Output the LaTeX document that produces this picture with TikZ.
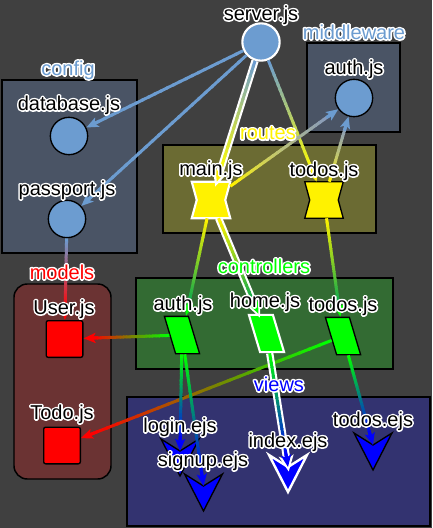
\documentclass[tikz,border=0pt]{standalone}
\usepackage{fontspec}
\setmainfont{Liberation Sans}
\usetikzlibrary{calc,arrows.meta}
\definecolor{bg}{RGB}{64,64,64}
\definecolor{nblue}{RGB}{108,156,208}
\definecolor{slate}{RGB}{74,84,101}
\definecolor{olivebox}{RGB}{107,107,51}
\definecolor{greenbox}{RGB}{51,107,51}
\definecolor{redbox}{RGB}{107,51,51}
\definecolor{bluebox}{RGB}{51,51,112}
\newcommand\halotext[1]{\leavevmode\rlap{\special{pdf:literal 1 Tr 2.4 w 1 1 1 RG 1 j 1 J}#1\special{pdf:literal 0 Tr}}#1}
\tikzset{
  grp/.style={draw=black, line width=1.1pt},
  circ/.style={circle, draw=black, fill=nblue, line width=1pt, minimum size=28pt, inner sep=0pt},
  hl/.style={draw=white, line width=1.6pt},
  rbox/.style={rectangle, minimum width=28.5pt, minimum height=27pt, inner sep=0pt},
  rshape/.style={fill=yellow, draw=black, line width=1pt},
  ctrl/.style={rectangle, draw=black, fill=green, line width=1pt, minimum width=18pt, minimum height=28pt, inner sep=0pt},
  mbox/.style={rectangle, rounded corners=1.5pt, draw=black, fill=red, line width=1pt, minimum size=27.5pt, inner sep=0pt},
  chev/.style={fill=blue, draw=black, line width=1pt, line join=miter},
  lab/.style={font=\fontsize{15}{18}\selectfont, inner sep=0pt, text=black},
  glab/.style={font=\fontsize{15}{18}\selectfont, inner sep=0pt},
  etip/.style={-{Stealth[length=9pt,width=7.5pt,inset=2pt]}},
}
\newcommand\gedge[4]{%
  \path (#1) -- (#2) coordinate[pos=0] (gs) coordinate[pos=1] (ge);
  \coordinate (gm) at ($(ge)!6pt!(gs)$);
  \foreach \i in {0,...,23}{%
    \pgfmathsetmacro\pa{\i/24}%
    \pgfmathsetmacro\pb{(\i+1.3)/24}%
    \pgfmathtruncatemacro\pc{100-100*\i/23}%
    \draw[line width=2.25pt, line cap=butt, draw=#3!\pc!#4] ($(gs)!\pa!(gm)$) -- ($(gs)!\pb!(gm)$);
  }
  \draw[line width=2.25pt, draw=#4, fill=#4, etip] ($(ge)!11pt!(gs)$) -- (ge);
}
\newcommand\gcase[2]{%
  \path (#1) -- (#2) coordinate[pos=0] (gs) coordinate[pos=1] (ge);
  \draw[white, line width=5.5pt, -{Stealth[length=12pt,width=11pt,inset=3pt]}] (gs) -- ($(gs)!1.04!(ge)$);
}
\newcommand\chevron[4]{%
  \coordinate (#1) at ({#2},{#3+12});
  \draw[chev,#4] ({#2-19},{#3}) -- (#1) -- ({#2+19},{#3}) -- ({#2},{#3+37}) -- cycle;
}
\begin{document}
\begin{tikzpicture}[x=0.75pt,y=-0.75pt]
\fill[bg] (0,0) rectangle (432,528);
% groups
\draw[grp, fill=slate] (2,80) rectangle (137,253);
\draw[grp, fill=slate] (307,43) rectangle (400,132);
\draw[grp, fill=olivebox] (163,145) rectangle (376,233);
\draw[grp, fill=greenbox] (136,278) rectangle (393,369);
\draw[grp, fill=redbox, rounded corners=10pt] (14,284) rectangle (111,479);
\draw[grp, fill=bluebox] (127,397) rectangle (430,526);
% nodes
\node[circ, hl] (server) at (261,42) {};
\node[circ] (db) at (69,136) {};
\node[circ] (pass) at (67,219) {};
\node[circ] (mauth) at (354,98) {};
\node[rbox] (main) at (211,200) {};
\draw[rshape, hl] (main.north west) -- (main.north east) -- ($(main.east)+(-5,0)$) -- (main.south east) -- (main.south west) -- ($(main.west)+(5,0)$) -- cycle;
\node[rbox] (rtodos) at (324,200) {};
\draw[rshape] (rtodos.north west) -- (rtodos.north east) -- ($(rtodos.east)+(-5,0)$) -- (rtodos.south east) -- (rtodos.south west) -- ($(rtodos.west)+(5,0)$) -- cycle;
\begin{scope}[shift={(182,335)}, xslant=-0.3]
  \node[ctrl, transform shape] (cauth) at (0,0) {};
\end{scope}
\begin{scope}[shift={(266.5,333.5)}, xslant=-0.3]
  \node[ctrl, hl, transform shape] (home) at (0,0) {};
\end{scope}
\begin{scope}[shift={(343,336)}, xslant=-0.3]
  \node[ctrl, transform shape] (ctodos) at (0,0) {};
\end{scope}
\node[mbox] (user) at (64.5,339) {};
\node[mbox] (todo) at (62,445.5) {};
\chevron{vlogin}{180}{439}{}
\chevron{vsignup}{203.5}{474}{}
\chevron{vindex}{288}{455}{draw=white, line width=1.8pt}
\chevron{vtodos}{373}{433}{}
% edges
\gedge{server}{db}{nblue}{nblue}
\gedge{server}{pass}{nblue}{nblue}
\gcase{server}{main}
\gedge{server}{main}{nblue}{yellow}
\gedge{server}{rtodos}{nblue}{yellow}
\gedge{main}{mauth}{yellow}{nblue}
\gedge{rtodos}{mauth}{yellow}{nblue}
\gedge{main}{cauth}{yellow}{green}
\gcase{main}{home}
\gedge{main}{home}{yellow}{green}
\gedge{rtodos}{ctodos}{yellow}{green}
\gedge{pass}{user}{nblue}{red}
\gedge{cauth}{user}{green}{red}
\gedge{ctodos}{todo}{green}{red}
\gedge{cauth}{vlogin}{green}{blue}
\gedge{cauth}{vsignup}{green}{blue}
\gcase{home}{vindex}
\gedge{home}{vindex}{green}{blue}
\gedge{ctodos}{vtodos}{green}{blue}
% group labels
\node[glab, text=nblue] (g-config) at (68,70) {\halotext{config}};
\node[glab, text=nblue] (g-mid) at (354,32) {\halotext{middleware}};
\node[glab, text=yellow] (g-routes) at (268,133) {\halotext{routes}};
\node[glab, text=green] (g-ctrl) at (264,266) {\halotext{controllers}};
\node[glab, text=red] (g-models) at (62,272) {\halotext{models}};
\node[glab, text=blue] (g-views) at (279,384) {\halotext{views}};
% node labels
\node[lab] (l-server) at (261,15) {\halotext{server.js}};
\node[lab] (l-db) at (69,105) {\halotext{database.js}};
\node[lab] (l-pass) at (67,190) {\halotext{passport.js}};
\node[lab] (l-mauth) at (354,69) {\halotext{auth.js}};
\node[lab] (l-main) at (211,170) {\halotext{main.js}};
\node[lab] (l-rtodos) at (324,171) {\halotext{todos.js}};
\node[lab] (l-cauth) at (183,305) {\halotext{auth.js}};
\node[lab] (l-home) at (265,302) {\halotext{home.js}};
\node[lab] (l-ctodos) at (343,306) {\halotext{todos.js}};
\node[lab] (l-user) at (64,309) {\halotext{User.js}};
\node[lab] (l-todo) at (62,414) {\halotext{Todo.js}};
\node[lab] (l-login) at (180,427) {\halotext{login.ejs}};
\node[lab] (l-todosv) at (373,421) {\halotext{todos.ejs}};
\node[lab] (l-index) at (288,442) {\halotext{index.ejs}};
\node[lab] (l-signup) at (203,461) {\halotext{signup.ejs}};
\end{tikzpicture}
\end{document}
